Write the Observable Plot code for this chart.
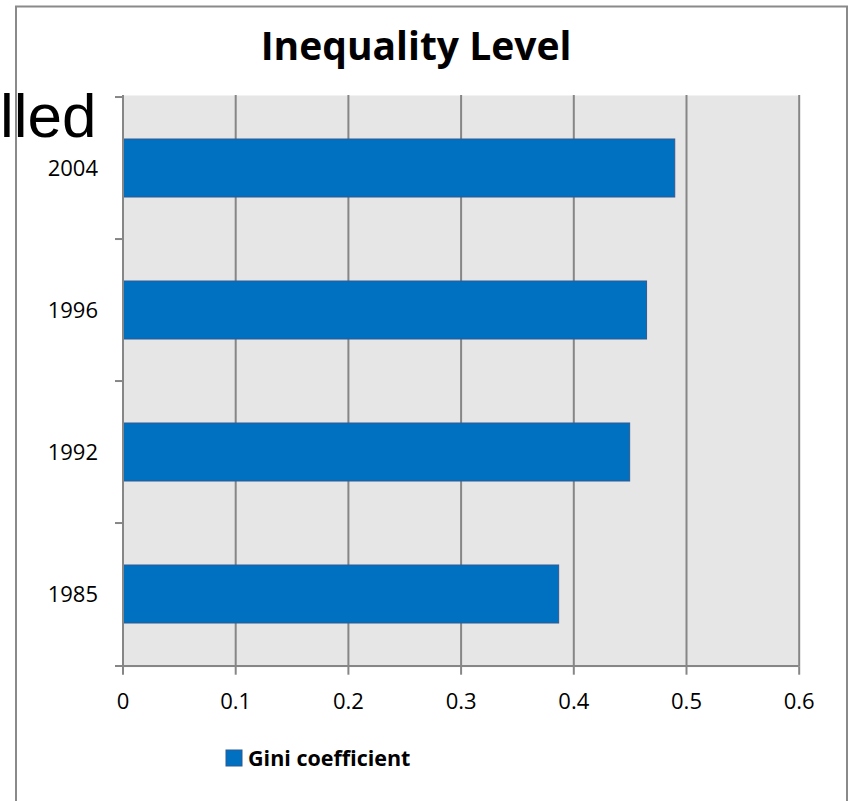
<!DOCTYPE html>
<html>
<head>
<meta charset="utf-8">
<script src="https://cdn.jsdelivr.net/npm/d3@7"></script>
<script src="https://cdn.jsdelivr.net/npm/@observablehq/plot@0.6"></script>
<style>
  html, body { margin: 0; padding: 0; background: #fff; }
  #wrap { position: relative; width: 848px; height: 801px; overflow: hidden; }
  #wrap > svg { position: absolute; left: 0; top: 0; }
</style>
</head>
<body>
<div id="wrap"></div>
<script>
// Gini coefficient by survey year
const years = ["2004", "1996", "1992", "1985"];
const gini = [0.49, 0.465, 0.45, 0.387];
const xTicks = [0, 0.1, 0.2, 0.3, 0.4, 0.5, 0.6];
const titleText = "Inequality Level";
const seriesName = "Gini coefficient";
const slideFragment = "lled";

const barColor = "#0070c0";
const barEdge = "#2f5b93";
const gridColor = "#868686";
const panelColor = "#e6e6e6";

const W = 848, H = 801;
const mL = 122.5, mR = 49.3, mT = 95, mB = 134.3;
const step = (H - mT - mB) / years.length;
const pxToX = (0.6 - 0) / (W - mL - mR);
const outTick = 7.5 * pxToX;

const data = years.map((y, i) => ({year: y, gini: gini[i]}));

const chart = Plot.plot({
  width: W,
  height: H,
  marginLeft: mL,
  marginRight: mR,
  marginTop: mT,
  marginBottom: mB,
  style: {fontFamily: "'Open Sans', sans-serif", fontSize: "22px", color: "#000", background: "transparent"},
  x: {domain: [0, 0.6], axis: null},
  y: {domain: years, paddingInner: 0.594, paddingOuter: 0.297, axis: null},
  marks: [
    Plot.frame({fill: panelColor, stroke: null}),
    Plot.gridX(xTicks.slice(1), {stroke: gridColor, strokeOpacity: 1, strokeWidth: 2}),
    Plot.barX(data, {x: "gini", y: "year", fill: barColor, stroke: barEdge, strokeWidth: 1}),
    Plot.ruleX([0], {stroke: gridColor, strokeWidth: 2}),
    // category boundary ticks on the left axis
    Plot.ruleY(years, {y: d => d, x1: -outTick, x2: 0, dy: -step / 2, stroke: gridColor, strokeWidth: 2}),
    // baseline of the value axis, extended to the left boundary tick
    Plot.ruleY([years[years.length - 1]], {y: d => d, x1: -outTick, x2: 0.6, dy: step / 2, stroke: gridColor, strokeWidth: 2}),
    Plot.axisX({
      ticks: xTicks,
      tickFormat: d => d === 0 ? "0" : d.toFixed(1),
      tickSize: 8,
      tickPadding: 18,
      stroke: gridColor,
      strokeWidth: 2,
      strokeOpacity: 1,
      fill: "#000",
      fontSize: 22,
      label: null
    }),
    Plot.axisY({tickSize: 0, tickPadding: 25, fill: "#000", fontSize: 22, label: null})
  ]
});

const wrap = document.getElementById("wrap");
wrap.appendChild(chart);

// Title, legend, outer border and the slide text overlapping the chart
const over = d3.select(wrap).append("svg")
  .attr("width", W).attr("height", H)
  .style("pointer-events", "none");

over.append("rect")
  .attr("x", 16).attr("y", 6.5)
  .attr("width", 831).attr("height", 820)
  .attr("fill", "none").attr("stroke", "#8a8a8a").attr("stroke-width", 2);

over.append("text")
  .attr("x", 416).attr("y", 60)
  .attr("text-anchor", "middle")
  .style("font-family", "'Open Sans', sans-serif")
  .style("font-weight", "700")
  .style("font-size", "39px")
  .text(titleText);

over.append("rect")
  .attr("x", 226).attr("y", 750).attr("width", 16).attr("height", 16)
  .attr("fill", barColor).attr("stroke", barEdge).attr("stroke-width", 1);

over.append("text")
  .attr("x", 248).attr("y", 766)
  .style("font-family", "'Open Sans', sans-serif")
  .style("font-weight", "700")
  .style("font-size", "21.5px")
  .text(seriesName);

over.append("text")
  .attr("x", 0).attr("y", 137)
  .attr("text-anchor", "start")
  .style("font-family", "'Liberation Sans', Arial, sans-serif")
  .style("font-size", "62px")
  .attr("fill", "#000")
  .text(slideFragment);
</script>
</body>
</html>
